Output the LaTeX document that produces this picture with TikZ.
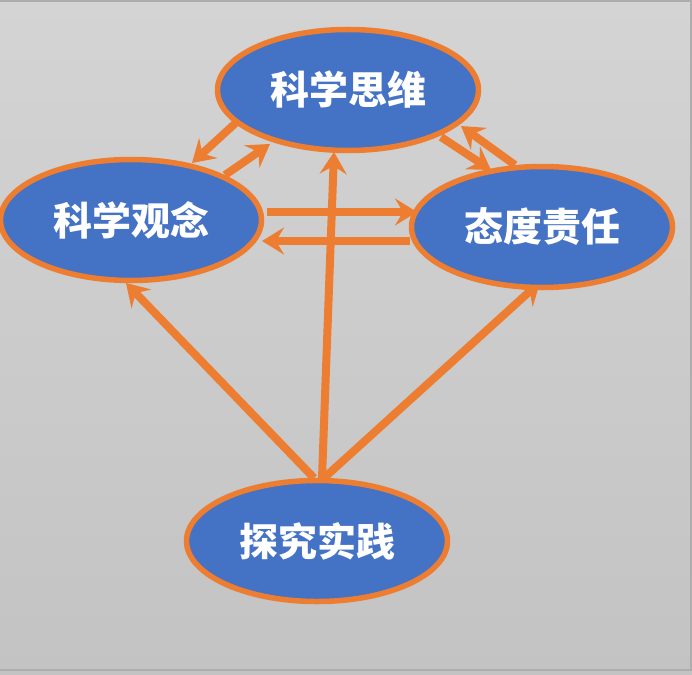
\documentclass[tikz,border=0pt]{standalone}
\usepackage{fontspec}
\newfontfamily\cjk{Noto Sans CJK SC}
\usetikzlibrary{arrows.meta,shapes.geometric,calc,backgrounds}
\definecolor{orng}{HTML}{ED7D31}
\definecolor{blu}{HTML}{4472C4}
\definecolor{bgtop}{HTML}{D4D4D4}
\definecolor{bgbot}{HTML}{C3C3C3}
\definecolor{edge}{HTML}{ADADAD}
\begin{document}
\begin{tikzpicture}[x=1pt,y=-1pt,
  bubble/.style={ellipse, draw=orng, fill=blu, line width=5.5pt,
    minimum width=261pt, minimum height=121pt, inner sep=0pt, text=white,
    font=\cjk\bfseries\fontsize{39}{39}\selectfont},
  link/.style={draw=orng, line width=8pt,
    -{Stealth[length=22pt,width=27pt,inset=8pt]}}]
\useasboundingbox (0,0) rectangle (692,674);
\node[bubble] (A) at (348,90) {科学思维};
\node[bubble] (B) at (131,220) {科学观念};
\node[bubble] (C) at (542,227) {态度责任};
\node[bubble] (D) at (317,541) {探究实践};
\begin{pgfonlayer}{background}
\shade[top color=bgtop, bottom color=bgbot] (0,0) rectangle (692,674);
\draw[edge, line width=1.2pt] (0,1) -- (691,1) -- (691,670) -- (0,670);
\draw[link] ($(A)+(-108,29)$) -- ($(B)+(61,-57)$);
\draw[link] ($(B)+(94,-45)$) -- ($(A)+(-78,54)$);
\draw[link] ($(A)+(93,47)$) -- ($(C)+(-51,-57)$);
\draw[link] ($(C)+(-27,-62)$) -- ($(A)+(113,36)$);
\draw[link] ($(B)+(136,-8)$) -- ($(C)+(-125,-15)$);
\draw[link] ($(C)+(-132,14)$) -- ($(B)+(131,21)$);
\draw[link] ($(D)+(5,-63)$) -- ($(A)+(-14,62)$);
\draw[link] ($(D)+(-3,-63)$) -- ($(B)+(-5,63)$);
\draw[link] ($(D)+(7,-63)$) -- ($(C)+(-2,55)$);
\end{pgfonlayer}
\end{tikzpicture}
\end{document}
